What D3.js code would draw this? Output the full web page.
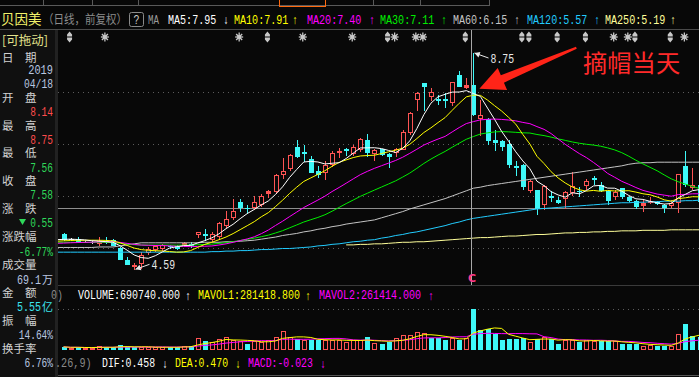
<!DOCTYPE html>
<html><head><meta charset="utf-8">
<script src="https://cdn.jsdelivr.net/npm/d3@7/dist/d3.min.js"></script>
<style>html,body{margin:0;padding:0;background:#080808;overflow:hidden}svg{display:block}</style>
</head><body><svg id="chart" width="699" height="377"></svg>
<script>
// ---------------- data ----------------
const opens=[5.26,5.17,5.17,5.12,5.12,5.07,5.14,5.16,5.00,4.76,
4.66,4.70,4.90,4.97,4.98,5.04,5.03,5.05,5.07,5.25,
5.27,5.16,5.22,5.43,5.58,5.88,5.77,5.77,5.82,6.06,
6.07,6.40,6.52,6.94,6.84,6.72,6.49,6.44,6.60,6.85,
6.90,6.80,6.89,7.08,6.80,6.90,6.81,6.83,6.89,7.22,
7.84,8.17,7.90,7.86,7.86,7.78,8.33,8.10,8.14,7.48,
7.49,7.08,7.05,7.00,6.58,6.60,6.10,6.12,5.82,6.00,
5.93,5.94,6.06,6.10,6.20,6.34,6.21,6.09,5.99,6.15,
5.98,5.90,5.83,5.88,5.88,5.83,5.80,5.87,6.58,6.15,
6.21];
const highs=[5.28,5.20,5.22,5.13,5.13,5.21,5.22,5.17,5.01,4.83,
4.71,4.92,5.01,5.06,5.07,5.06,5.05,5.12,5.12,5.30,
5.36,5.30,5.50,5.71,5.94,5.94,5.83,6.00,6.04,6.12,
6.43,6.74,6.80,7.08,6.99,6.76,6.57,6.67,6.86,6.92,
6.93,6.98,7.12,7.20,6.90,6.91,6.82,6.92,7.26,7.62,
8.00,8.18,8.08,7.95,7.98,8.20,8.40,8.27,8.75,7.85,
7.50,7.27,7.08,7.08,6.67,6.61,6.30,6.12,6.22,6.09,
5.98,6.10,6.47,6.17,6.33,6.38,6.27,6.10,6.11,6.16,
6.00,5.92,5.93,5.98,5.90,5.85,5.92,6.43,6.87,6.54,
6.30];
const lows=[5.15,5.15,5.11,5.11,5.10,5.05,5.10,5.05,4.78,4.69,
4.59,4.62,4.88,4.95,4.97,5.00,4.99,5.03,5.02,5.22,
5.16,5.14,5.20,5.40,5.56,5.72,5.67,5.75,5.80,5.98,
6.05,6.35,6.50,6.75,6.67,6.46,6.36,6.33,6.58,6.75,
6.78,6.78,6.87,6.76,6.70,6.78,6.56,6.76,6.88,7.20,
7.66,7.66,7.85,7.76,7.72,7.75,8.11,8.08,7.56,7.18,
7.00,6.88,6.89,6.56,6.41,6.13,6.08,5.66,5.75,5.90,
5.87,5.77,6.02,6.00,6.14,6.24,6.10,5.84,5.95,5.97,
5.90,5.77,5.71,5.86,5.85,5.70,5.78,5.70,6.20,6.13,
5.87];
const closes=[5.17,5.17,5.12,5.12,5.12,5.13,5.12,5.06,4.79,4.69,
4.67,4.87,4.99,5.04,5.06,5.03,5.00,5.10,5.06,5.30,
5.25,5.27,5.48,5.56,5.72,5.79,5.76,5.88,6.00,6.10,
6.41,6.49,6.79,6.76,6.82,6.47,6.43,6.60,6.83,6.87,
6.88,6.94,7.10,6.84,6.88,6.80,6.76,6.90,7.24,7.60,
7.98,8.11,8.00,7.85,7.84,8.19,8.12,8.13,7.58,7.55,
7.08,7.03,6.97,6.62,6.55,6.20,6.28,5.77,6.19,5.98,
5.88,6.07,6.19,6.09,6.29,6.33,6.12,5.93,6.08,6.00,
5.92,5.80,5.87,5.90,5.86,5.79,5.86,6.42,6.23,6.21,
5.90];
// closes just before the visible window (estimated from the MA levels at the left edge)
const priorCloses=[5.18,5.14,5.16,5.12,5.15,5.17,5.13,5.14,5.16,5.15,
5.08,5.05,5.03,5.04,5.06,5.02,5.05,5.07,5.04,5.06,
5.09,5.11,5.08,5.12,5.10,5.14,5.15,5.15,5.16,5.20];
const volumes=[45000,30000,38000,25000,28000,60000,40000,35000,70000,45000,
38000,40000,38000,38000,40000,35000,38000,62000,60000,195000,
150000,125000,175000,210000,155000,140000,100000,140000,125000,155000,
210000,320000,205000,185000,155000,160000,165000,170000,165000,160000,
125000,155000,160000,205000,110000,100000,128000,195000,250000,240000,
300000,280000,190000,197000,157000,200000,160000,199000,690740,337000,
348000,264000,157000,185000,180000,191000,124000,185000,213000,180000,
95000,168000,168000,124000,168000,140000,140000,140000,140000,95000,
95000,95000,67000,84000,67000,67000,67000,270000,438000,236000,
213000];
const ma60=[5.01,5.01,5.01,5.01,5.01,5.02,5.02,5.02,5.04,5.06,
5.08,5.10,5.10,5.10,5.10,5.10,5.10,5.10,5.10,5.10,
5.11,5.11,5.11,5.12,5.12,5.13,5.14,5.15,5.17,5.19,
5.21,5.24,5.26,5.28,5.31,5.33,5.36,5.38,5.41,5.43,
5.46,5.48,5.50,5.52,5.54,5.58,5.62,5.66,5.70,5.75,
5.79,5.83,5.87,5.91,5.95,6.00,6.05,6.10,6.15,6.17,
6.20,6.22,6.24,6.26,6.28,6.30,6.32,6.34,6.36,6.38,
6.40,6.42,6.44,6.46,6.48,6.50,6.52,6.54,6.56,6.58,
6.61,6.63,6.64,6.64,6.65,6.65,6.65,6.65,6.65,6.65,
6.65];
const ma120=[4.92,4.92,4.92,4.92,4.92,4.92,4.92,4.92,4.92,4.92,
4.92,4.92,4.92,4.92,4.92,4.92,4.92,4.92,4.92,4.92,
4.92,4.93,4.93,4.94,4.94,4.95,4.95,4.96,4.97,4.97,
4.98,4.99,4.99,5.00,5.01,5.02,5.04,5.05,5.07,5.08,
5.10,5.12,5.13,5.15,5.16,5.19,5.21,5.24,5.26,5.29,
5.31,5.34,5.37,5.40,5.43,5.47,5.50,5.54,5.57,5.59,
5.61,5.63,5.65,5.67,5.69,5.71,5.73,5.75,5.76,5.77,
5.78,5.79,5.80,5.81,5.82,5.83,5.84,5.85,5.86,5.87,
5.87,5.88,5.88,5.89,5.89,5.90,5.90,5.90,5.91,5.91,
5.92];
const ma250=[null,null,null,null,null,null,null,null,null,null,
null,null,null,null,null,null,null,null,null,null,
null,null,null,null,null,null,null,null,null,null,
null,null,null,null,null,null,null,null,null,null,
5.06,5.06,5.07,5.07,5.08,5.08,5.09,5.10,5.11,5.11,
5.12,5.12,5.13,5.14,5.15,5.16,5.17,5.18,5.19,5.20,
5.20,5.21,5.22,5.23,5.23,5.24,5.25,5.26,5.26,5.27,
5.28,5.29,5.29,5.30,5.30,5.31,5.31,5.32,5.32,5.33,
5.33,5.33,5.34,5.34,5.34,5.34,5.35,5.35,5.35,5.35,
5.35];
const priceTicks=[5,6,7,8];
const refLevel=5.77;
const cursorIndex=58;
const highIndex=58, lowIndex=10;
const markerIdx=[1,6,25,29,34,41,46,47,50,51,57,65,66,70,74,78,80,81,86,88];
const markerKind=['s','a','a','s','a','a','s','a','a','a','s','s','s','s','s','a','a','s','s','a'];
const maNames=['MA5','MA10','MA20','MA30','MA60','MA120','MA250'];
const maLegend=['7.95','7.91','7.40','7.11','6.15','5.57','5.19'];
const maTrend=['↓','↑','↑','↑','↑','↑','↑'];
const volNames=['VOLUME','MAVOL1','MAVOL2'];
const volLegend=['690740.000','281418.800','261414.000'];
const volTrend=['↑','↑','↑'];
const macdNames=['DIF','DEA','MACD'];
const macdLegend=['0.458','0.470','-0.023'];
const macdTrend=['↓','↓','↓'];
const volTitleTail='0)', macdTitleTail='.26,9)';
const infoLabels=['日期','开盘','最高','最低','收盘','涨跌','涨跌幅','成交量','金额','振幅','换手率'];
const infoValues=[['2019','04/18'],'8.14','8.75','7.56','7.58','0.55','-6.77%','69.1万','5.55亿','14.64%','6.76%'];
const stockName='贝因美', stockMode='（日线，前复权）';
const noteText='摘帽当天';

// ---------------- drawing ----------------
(function(){
const W=699,H=377;
const svg=d3.select('#chart');
const MONO='"Liberation Mono","DejaVu Sans Mono",monospace';
const CJK='"Noto Sans CJK SC","Noto Sans",sans-serif';
const RED='#ff5454', CYAN='#3ef8f8', FLAT='#e8e8e8', BG='#080808';
const maColors=['#ffffff','#ffff00','#ff00ff','#00ee00','#c4c4c4','#22ccff','#ffff9a'];

svg.append('rect').attr('width',W).attr('height',H).attr('fill',BG);
const defs=svg.append('defs');
defs.append('clipPath').attr('id','clipMain').append('rect').attr('x',58).attr('y',30).attr('width',W-58).attr('height',255);
defs.append('clipPath').attr('id','clipVol').append('rect').attr('x',58).attr('y',300).attr('width',W-58).attr('height',52);

const n=closes.length;
const idx=d3.range(n);
const x=d3.scaleLinear().domain([0,n-1]).range([63.5,699.5]);
const y=d3.scaleLinear().domain([5,8]).range([248,92]);
const yv=d3.scaleLinear().domain([0,d3.max(volumes)]).range([349.5,309]);

const prevClose=i=>i===0?priorCloses[priorCloses.length-1]:closes[i-1];
function kind(i){const o=opens[i],c=closes[i];if(c>o)return'up';if(c<o)return'down';const p=prevClose(i);return c>p?'up':c<p?'down':'flat';}

// monospace text: natural advance = 0.6em, stretched vertically to the wanted height
function mono(g,str,xx,yb,color,o={}){
  const cw=o.cw||6, fs=cw/0.6, sy=(o.h||12)/fs;
  const t=g.append('text').attr('transform',`translate(${xx},${yb}) scale(1,${sy.toFixed(3)})`)
    .attr('fill',color).attr('font-family',MONO).attr('font-size',fs.toFixed(2)).text(str);
  if(o.anchor)t.attr('text-anchor',o.anchor);
  return t;
}
function cjk(g,str,xx,yb,color,size,sy){
  return g.append('text').attr('transform',`translate(${xx},${yb}) scale(1,${sy||1})`).attr('fill',color)
    .attr('font-family',CJK).attr('font-size',size).text(str);
}

// top tab strip
const tabs=svg.append('g').attr('shape-rendering','crispEdges');
tabs.append('line').attr('x1',0).attr('x2',489).attr('y1',5.5).attr('y2',5.5).attr('stroke','#5a5a5a');
[43.5,92.5,138.5,373.5,420.5,489.5].forEach(v=>tabs.append('line').attr('x1',v).attr('x2',v).attr('y1',0).attr('y2',6).attr('stroke','#5a5a5a'));
tabs.append('rect').attr('x',279.5).attr('y',-2).attr('width',46).attr('height',8).attr('fill','none').attr('stroke','#ff6a10');

// frame lines
const frame=svg.append('g').attr('shape-rendering','crispEdges');
frame.append('line').attr('x1',0).attr('x2',W).attr('y1',29.5).attr('y2',29.5).attr('stroke','#4a4a4a');
frame.append('line').attr('x1',58).attr('x2',W).attr('y1',285.5).attr('y2',285.5).attr('stroke','#3a3a3a');
frame.append('line').attr('x1',58).attr('x2',W).attr('y1',375.5).attr('y2',375.5).attr('stroke','#555');

// header
const hdr=svg.append('g');
cjk(hdr,stockName,1,24,'#f2f26a',13.5);
cjk(hdr,stockMode,43,23.5,'#8c8c8c',10.5,1.15);
hdr.append('rect').attr('x',129.5).attr('y',12.5).attr('width',14).attr('height',14).attr('rx',2).attr('fill','none').attr('stroke','#8a8a8a');
mono(hdr,'?',136.5,24,'#cfcfcf',{anchor:'middle',cw:6,h:12});
mono(hdr,'MA',148,23.5,'#9a9a9a',{cw:5.5,h:13});
const maX=[168,234,307,380,453,527,605], maArrowX=[226,295,372,444,517,597,673];
maNames.forEach((nm,k)=>{
  mono(hdr,nm+':'+maLegend[k],maX[k],23.5,maColors[k],{cw:6.05,h:13});
  mono(hdr,maTrend[k],maArrowX[k],24,maColors[k],{anchor:'middle',cw:6,h:12});
});

// main chart
const main=svg.append('g').attr('clip-path','url(#clipMain)');
main.append('g').attr('shape-rendering','crispEdges').selectAll('line').data(priceTicks).join('line')
  .attr('x1',58).attr('x2',W).attr('y1',d=>Math.round(y(d))+0.5).attr('y2',d=>Math.round(y(d))+0.5)
  .attr('stroke','#5c5c5c').attr('stroke-dasharray','1,4');
main.append('line').attr('shape-rendering','crispEdges').attr('x1',58).attr('x2',W)
  .attr('y1',Math.round(y(refLevel))+0.5).attr('y2',Math.round(y(refLevel))+0.5).attr('stroke','#8e8e8e');

// markers row
const mk=svg.append('g').attr('fill','#c8c8c8').attr('stroke','#c8c8c8');
markerIdx.forEach((mi,k)=>{
  const g=mk.append('g').attr('transform',`translate(${x(mi)-1},37)`);
  if(markerKind[k]==='a'){
    g.append('circle').attr('r',2).attr('stroke','none');
    [[-4,0,4,0],[0,-4.5,0,4.5],[-3,-3,3,3],[3,-3,-3,3]].forEach(s=>g.append('line').attr('x1',s[0]).attr('y1',s[1]).attr('x2',s[2]).attr('y2',s[3]).attr('stroke-width',1.3));
  }else{
    g.append('path').attr('stroke','none').attr('d','M0,-5.5L2.5,-2.5L2.5,-0.6L-2.5,-0.6L-2.5,-2.5Z M0,5.5L2.5,2.5L2.5,0.6L-2.5,0.6L-2.5,2.5Z');
  }
});

// candles
const cg=main.append('g').attr('shape-rendering','crispEdges');
idx.forEach(i=>{
  const cx=Math.round(x(i)), k=kind(i), col=k==='up'?RED:k==='down'?CYAN:FLAT;
  const o=opens[i],c=closes[i];
  const yt=Math.round(y(Math.max(o,c))), yb=Math.round(y(Math.min(o,c)));
  const yh=Math.round(y(highs[i])), yl=Math.round(y(lows[i]));
  const wx=cx+0.5;
  if(yb-yt<1){
    cg.append('line').attr('x1',wx).attr('x2',wx).attr('y1',yh).attr('y2',yl+1).attr('stroke',col);
    cg.append('line').attr('x1',cx-2).attr('x2',cx+3).attr('y1',yt+0.5).attr('y2',yt+0.5).attr('stroke',col);
    return;
  }
  if(yh<yt)cg.append('line').attr('x1',wx).attr('x2',wx).attr('y1',yh).attr('y2',yt).attr('stroke',col);
  if(yl>yb)cg.append('line').attr('x1',wx).attr('x2',wx).attr('y1',yb).attr('y2',yl+1).attr('stroke',col);
  if(k==='up'&&yb-yt>2){
    cg.append('rect').attr('x',cx-1.5).attr('y',yt+0.5).attr('width',4).attr('height',yb-yt-1).attr('fill',BG).attr('stroke',col);
  }else{
    cg.append('rect').attr('x',cx-2).attr('y',yt).attr('width',5).attr('height',yb-yt+1).attr('fill',col);
  }
});

// moving averages
const allC=priorCloses.concat(closes), off=priorCloses.length;
function maCalc(p){return d3.range(-1,n).map(i=>{const j=i+off;return {i,v:j-p+1<0?null:d3.mean(allC.slice(j-p+1,j+1))};});}
function fromArr(a){const pts=a.map((v,i)=>({i,v}));if(a[0]!=null)pts.unshift({i:-1,v:a[0]});return pts;}
const maSeries=[maCalc(5),maCalc(10),maCalc(20),maCalc(30),fromArr(ma60),fromArr(ma120),fromArr(ma250)];
const lineGen=d3.line().defined(d=>d.v!=null).x(d=>x(d.i)).y(d=>y(d.v));
const lg=main.append('g').attr('fill','none').attr('stroke-width',1);
for(let k=maSeries.length-1;k>=0;k--){lg.append('path').attr('d',lineGen(maSeries[k])).attr('stroke',maColors[k]);}

// cursor
const curX=Math.round(x(cursorIndex))-2+0.5;
svg.append('line').attr('x1',curX).attr('x2',curX).attr('y1',30).attr('y2',285).attr('stroke','#a8a8a8').attr('shape-rendering','crispEdges');
svg.append('text').attr('x',curX+0.5).attr('y',282).attr('text-anchor','middle').attr('fill','#ff3c8c')
  .attr('font-family','"DejaVu Sans",sans-serif').attr('font-size',11).attr('font-weight','bold').text('C');

// high / low annotations
const ann=svg.append('g');
function extreme(i,val,dir,label){
  const tx=Math.round(x(i))+1.5, ty=y(val);
  const ex=tx+14, ey=ty+dir*5;
  ann.append('line').attr('x1',tx).attr('y1',ty).attr('x2',ex).attr('y2',ey).attr('stroke','#e8e8e8');
  const ang=Math.atan2(ey-ty,ex-tx);
  const p=(a,l)=>[tx+Math.cos(ang+a)*l,ty+Math.sin(ang+a)*l];
  const a1=p(0.5,6),a2=p(-0.5,6);
  ann.append('path').attr('d',`M${tx},${ty}L${a1[0]},${a1[1]}L${a2[0]},${a2[1]}Z`).attr('fill','#e8e8e8');
  mono(ann,label,ex+2,ey+4.5,'#e8e8e8',{cw:5.9,h:12});
}
extreme(highIndex,highs[highIndex],1,highs[highIndex].toFixed(2));
extreme(lowIndex,lows[lowIndex],-1,lows[lowIndex].toFixed(2));

// red note arrow and text
const tip=[x(cursorIndex)+6,y(opens[cursorIndex])+4], tail=[tip[0]+97,tip[1]-41];
(function(){
  const dx=tail[0]-tip[0],dy=tail[1]-tip[1],L=Math.hypot(dx,dy),u=[dx/L,dy/L],nn=[-u[1],u[0]];
  const b=[tip[0]+u[0]*25,tip[1]+u[1]*25];
  const P=(pt,s)=>[pt[0]+nn[0]*s,pt[1]+nn[1]*s];
  const pts=[tip,P(b,12),P(b,4),P(tail,1),P(tail,-1),P(b,-4),P(b,-12)];
  svg.append('path').attr('d','M'+pts.map(q=>q.join(',')).join('L')+'Z').attr('fill','#ff2418');
})();
cjk(svg,noteText,583,72,'#ff2a2a',24.3);

// volume pane
const vX=[78,198,319], vAX=[188,308,431], vCol=['#ffffff','#ffff00','#ff00ff'];
volNames.forEach((nm,k)=>{mono(svg,nm+':'+volLegend[k],vX[k],299,vCol[k],{cw:6,h:12});mono(svg,volTrend[k],vAX[k],300,vCol[k],{anchor:'middle',cw:6,h:12});});
const vol=svg.append('g').attr('clip-path','url(#clipVol)');
vol.append('line').attr('shape-rendering','crispEdges').attr('x1',58).attr('x2',W).attr('y1',309.5).attr('y2',309.5).attr('stroke','#5c5c5c').attr('stroke-dasharray','1,4');
const vg=vol.append('g').attr('shape-rendering','crispEdges');
idx.forEach(i=>{
  const cx=Math.round(x(i)), up=closes[i]>=prevClose(i);
  const yt=Math.round(yv(volumes[i])), yb=350;
  if(up&&yb-yt>2){
    vg.append('rect').attr('x',cx-1.5).attr('y',yt+0.5).attr('width',4).attr('height',yb-yt-1).attr('fill',BG).attr('stroke',RED);
  }else{
    vg.append('rect').attr('x',cx-2).attr('y',yt).attr('width',5).attr('height',Math.max(1,yb-yt)).attr('fill',up?RED:CYAN);
  }
});
function mavol(p){return idx.map(i=>({i,v:d3.mean(volumes.slice(Math.max(0,i-p+1),i+1))}));}
const vline=d3.line().x(d=>x(d.i)).y(d=>yv(d.v));
vol.append('path').attr('d',vline(mavol(10))).attr('fill','none').attr('stroke','#ff00ff');
vol.append('path').attr('d',vline(mavol(5))).attr('fill','none').attr('stroke','#ffff00');

// MACD header
const mX=[102,175,248], mAX=[165,238,323];
macdNames.forEach((nm,k)=>{mono(svg,nm+':'+macdLegend[k],mX[k],367,vCol[k],{cw:5.9,h:12});mono(svg,macdTrend[k],mAX[k],368,vCol[k],{anchor:'middle',cw:6,h:12});});

// left info panel
const lp=svg.append('g');
lp.append('rect').attr('x',0).attr('y',30).attr('width',55).attr('height',H-30).attr('fill','#101010');
lp.append('rect').attr('x',55).attr('y',30).attr('width',3).attr('height',H-30).attr('fill','#222');
mono(svg,volTitleTail,51,299,'#8a8a8a',{cw:6,h:12});
mono(svg,macdTitleTail,55,367,'#8a8a8a',{cw:6.1,h:12});
cjk(lp,'[可拖动]',2,45,'#e2e28c',12.5);
const LAB='#d2d2d2', LIGHT='#b8c6e0', VRED='#ff4c4c', VGRN='#2fd85a', VCY='#3ce6f0';
const labelY=[57,97,125,152.5,180,208,236.5,264.5,292,320,348];
infoLabels.forEach((lb,k)=>{
  const yb=labelY[k]+4.5;
  if(lb.length===2){cjk(lp,lb[0],2,yb,LAB,11.5);cjk(lp,lb[1],25,yb,LAB,11.5);}
  else cjk(lp,lb,2,yb,LAB,11.5);
});
mono(lp,infoValues[0][0],53,74,LIGHT,{anchor:'end',cw:6.2,h:12});
mono(lp,infoValues[0][1],53,88,LIGHT,{anchor:'end',cw:5.8,h:12});
const valCol=[null,VRED,VRED,VGRN,VGRN,VGRN,VGRN,LIGHT,VCY,LIGHT,LIGHT];
for(let k=1;k<infoValues.length;k++){
  const yb=labelY[k]+19, v=infoValues[k];
  if(/[万亿]$/.test(v)){
    mono(lp,v.slice(0,-1),41,yb,valCol[k],{anchor:'end',cw:6,h:12});
    cjk(lp,v.slice(-1),42,yb,valCol[k],11);
  }else{
    mono(lp,v,53,yb,valCol[k],{anchor:'end',cw:5.7,h:12});
  }
}
lp.append('path').attr('d',`M19,${labelY[5]+11}L26,${labelY[5]+11}L22.5,${labelY[5]+17}Z`).attr('fill',VGRN);
})();
</script></body></html>
